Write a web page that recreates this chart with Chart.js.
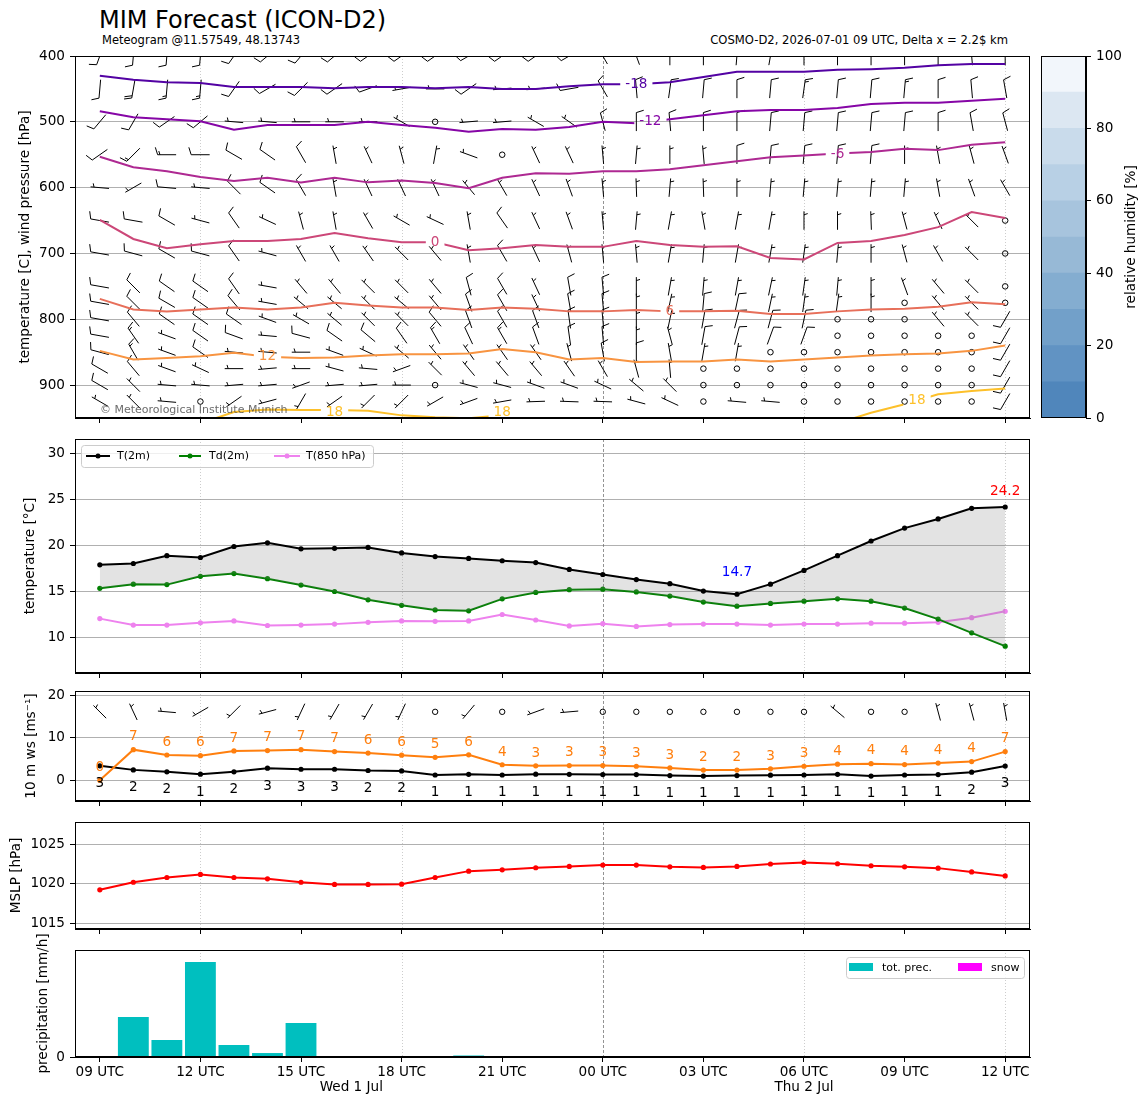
<!DOCTYPE html>
<html><head><meta charset="utf-8">
<script src="https://cdn.jsdelivr.net/npm/chart.js@4.4.1/dist/chart.umd.min.js"></script>
<style>
html,body{margin:0;padding:0;background:#fff;}
#wrap{position:relative;width:1148px;height:1105px;overflow:hidden;background:#fff;}
#wrap canvas{position:absolute;}
.txt{position:absolute;white-space:nowrap;color:#000;font-family:'DejaVu Sans',sans-serif;line-height:1;}
</style></head><body>
<div id="wrap">
 <div class="txt" style="left:99px;top:8px;font-size:24px;">MIM Forecast (ICON-D2)</div>
 <div class="txt" style="left:102px;top:35px;font-size:11.5px;">Meteogram @11.57549, 48.13743</div>
 <div class="txt" style="right:140px;top:35px;font-size:11.6px;">COSMO-D2, 2026-07-01 09 UTC, Delta x = 2.2$ km</div>
</div>
<script>
// ---------------- DATA ----------------
const timeHours = [0,1,2,3,4,5,6,7,8,9,10,11,12,13,14,15,16,17,18,19,20,21,22,23,24,25,26,27];
const xTickHours = [0,3,6,9,12,15,18,21,24,27];
const xTickLabels = ["09 UTC","12 UTC","15 UTC","18 UTC","21 UTC","00 UTC","03 UTC","06 UTC","09 UTC","12 UTC"];
const dateLabelHours = [7.5, 21];
const dateLabels = ["Wed 1 Jul","Thu 2 Jul"];
const dottedGridHours = [3,9,21,27];
const dayBreakHours = [15];

// isotherms: pressure [hPa] of each isotherm at every hour
const isoTemps = [-18,-12,-6,0,6,12,18];
const iso_m18 = [430,436,440,441,447,447,447,449,447,447,449,447,450,450,446,443,443,440,432,424,424,424,421,420,418,414,412,412];
const iso_m12 = [484,493,496,499,512,505,505,505,500,505,509,515,511,512,508,500,502,496,490,484,482,482,479,473,471,471,468,465];
const iso_m6  = [553,569,575,584,590,585,592,585,592,589,593,601,585,578,579,575,575,572,566,560,554,551,548,546,541,543,535,531];
const iso_0   = [649,678,692,686,681,681,678,669,677,683,683,695,692,687,690,690,681,687,690,689,707,709,684,681,672,660,637,646];
const iso_6   = [769,785,788,785,782,785,782,775,779,782,782,786,782,784,788,788,786,788,788,787,792,792,788,785,784,781,774,777];
const iso_12  = [848,861,859,856,851,857,859,858,855,853,853,852,845,850,861,859,865,864,864,861,864,861,858,855,853,852,848,840];
const iso_18  = [970,970,970,958,941,937,938,938,939,946,949,950.5,946,958,970,970,970,970,970,970,970,970,958,942,929,914,909,905];
const isoLabelTemps = [-18,-12,-6,0,6,12,18,18,18];
const isoLabelHours = [16.0,16.42,22.0,10.0,17.0,5.0,7.0,12.0,24.37];
const isoLabelPress = [443,499,550,683,788,857,941,941,923];

// wind barbs aloft: direction wind comes from [deg] and speed [kt]
const barbLevels = [400,450,500,550,600,650,700,750,775,800,825,850,875,900,925];
const dir400 = [200,185,185,185,215,230,220,230,235,235,235,240,235,235,240,330,340,0,0,5,10,0,0,0,0,0,355,0];
const spd400 = [10,10,10,10,10,10,10,10,10,10,10,10,10,10,10,10,10,10,10,10,10,10,10,10,10,10,10,10];
const dir450 = [185,190,185,185,215,240,225,235,250,260,270,235,265,265,260,330,355,8,5,0,5,8,5,5,5,0,355,350];
const spd450 = [10,20,15,15,10,10,10,10,10,5,5,10,5,5,10,10,10,10,10,10,10,15,10,10,15,10,10,10];
const dir500 = [220,210,235,230,275,275,270,270,270,300,0,265,265,300,305,345,0,355,0,0,5,5,5,5,5,0,350,345];
const spd500 = [10,10,10,10,5,5,5,5,5,5,0,5,5,5,5,10,10,10,10,10,10,10,10,10,10,10,10,10];
const dir550 = [235,225,270,270,300,305,330,350,335,345,10,290,0,335,335,355,5,0,355,0,5,5,5,5,0,350,345,340];
const spd550 = [10,15,15,10,10,10,10,5,5,5,5,5,0,5,5,5,5,5,5,10,10,10,10,10,5,5,5,5];
const dir600 = [275,240,275,275,315,305,330,350,335,335,335,320,330,335,340,355,358,5,358,0,5,5,5,5,5,350,340,330];
const spd600 = [5,5,10,5,10,10,10,5,5,5,5,5,5,5,5,5,5,5,5,5,5,5,5,5,5,5,5,5];
const dir650 = [280,280,300,285,325,295,345,350,330,300,295,350,325,335,340,355,5,10,350,10,10,0,0,358,345,335,315,0];
const spd650 = [10,10,10,5,10,5,5,5,5,5,5,5,10,5,5,5,5,5,5,5,5,5,5,5,5,5,5,0];
const dir700 = [280,285,300,285,325,285,330,330,325,315,320,350,330,335,345,355,355,10,5,10,10,8,5,0,345,330,315,0];
const spd700 = [10,10,10,10,10,5,5,5,5,5,5,5,10,5,5,5,5,5,5,5,5,5,5,5,5,5,5,0];
const dir750 = [280,315,305,305,325,280,320,320,315,315,320,345,330,335,350,355,0,10,5,10,12,8,5,0,340,320,315,0];
const spd750 = [10,10,10,10,10,5,5,5,5,5,5,10,10,5,10,10,5,5,5,5,5,5,5,5,5,5,5,0];
const dir775 = [280,315,300,305,320,280,310,310,315,310,320,340,330,335,350,355,0,12,5,12,12,8,8,0,0,320,315,0];
const spd775 = [10,10,10,10,10,5,5,5,5,5,5,10,10,5,10,10,5,5,10,10,5,5,5,5,0,5,5,0];
const dir800 = [280,320,305,305,305,290,300,310,315,315,320,340,330,340,352,355,0,12,10,15,15,12,0,0,0,320,315,210];
const spd800 = [10,10,10,10,10,5,5,5,5,5,10,10,10,10,10,10,5,5,10,10,10,10,0,0,0,5,5,10];
const dir825 = [280,325,290,305,290,275,285,305,310,325,330,335,330,340,352,355,0,345,10,15,20,20,0,0,0,0,0,210];
const spd825 = [10,15,5,10,10,5,10,10,10,10,15,10,15,10,10,10,5,5,10,10,10,10,0,0,0,0,0,10];
const dir850 = [285,330,290,305,275,275,270,290,295,310,320,325,325,325,345,350,0,350,10,10,0,0,0,0,0,0,0,210];
const spd850 = [10,15,5,10,5,5,5,5,5,5,5,5,5,5,5,10,10,5,5,5,0,0,0,0,0,0,0,10];
const dir875 = [300,320,290,295,270,265,270,285,275,250,315,320,320,320,325,330,345,355,0,0,0,0,0,0,0,0,0,210];
const spd875 = [10,10,5,5,5,5,5,5,5,5,5,5,5,5,5,5,5,5,0,0,0,0,0,0,0,0,0,10];
const dir900 = [300,315,275,275,265,265,250,265,265,270,0,285,285,290,290,295,310,315,0,0,0,0,0,0,0,0,0,210];
const spd900 = [10,5,5,5,5,5,5,5,5,5,0,5,5,5,5,5,5,5,0,0,0,0,0,0,0,0,0,10];
const dir925 = [300,315,275,0,235,255,210,235,225,225,240,250,260,268,272,272,285,295,0,275,275,0,0,0,0,0,0,210];
const spd925 = [5,5,5,0,5,5,5,5,5,5,5,5,5,5,5,5,5,5,0,5,5,0,0,0,0,0,0,10];

// 2 m temperatures [C]
const t2m   = [17.9,18.05,18.9,18.7,19.9,20.3,19.65,19.7,19.8,19.2,18.8,18.6,18.35,18.15,17.4,16.85,16.3,15.85,15.05,14.7,15.8,17.3,18.9,20.5,21.9,22.9,24.05,24.2];
const td2m  = [15.35,15.8,15.75,16.65,16.95,16.4,15.7,15.0,14.1,13.5,13.0,12.9,14.2,14.9,15.2,15.25,14.95,14.5,13.85,13.4,13.7,13.95,14.2,13.95,13.2,12.0,10.5,9.05];
const t850  = [12.05,11.35,11.35,11.6,11.8,11.3,11.35,11.45,11.65,11.8,11.75,11.8,12.5,11.9,11.25,11.5,11.2,11.4,11.45,11.45,11.35,11.45,11.45,11.55,11.55,11.65,12.15,12.85];

// 10 m wind [m/s]
const gust10 = [0.0,7.2,5.95,5.8,6.9,7.0,7.2,6.75,6.4,5.9,5.4,6.0,3.65,3.4,3.45,3.45,3.3,2.9,2.4,2.4,2.7,3.3,3.8,3.9,3.7,4.05,4.4,6.75];
const ws10   = [3.4,2.45,2.0,1.45,2.0,2.85,2.6,2.6,2.3,2.2,1.25,1.4,1.25,1.45,1.4,1.35,1.35,1.1,1.0,1.1,1.2,1.25,1.4,1.0,1.25,1.35,1.9,3.35];
const dir10  = [315,335,275,240,225,255,205,210,210,205,0,220,0,250,265,0,0,0,0,0,0,0,310,0,0,345,345,350];
const kt10   = [5,5,5,5,5,5,5,5,5,5,0,5,0,5,5,0,0,0,0,0,0,0,5,0,0,5,5,5];
const barbRow10 = 16.1;

// MSLP [hPa]
const mslp = [1019.24,1020.2,1020.8,1021.18,1020.8,1020.63,1020.2,1019.92,1019.92,1019.96,1020.8,1021.6,1021.77,1022.03,1022.2,1022.36,1022.36,1022.15,1022.07,1022.2,1022.5,1022.7,1022.53,1022.28,1022.15,1021.98,1021.5,1021.0];

// precipitation [mm/h]
const precipTotal = [0,0.374,0.159,0.888,0.112,0.037,0.318,0,0,0,0,0.014,0,0,0,0,0,0,0,0,0,0,0,0,0,0,0,0];
const precipSnow  = [0,0,0,0,0,0,0,0,0,0,0,0,0,0,0,0,0,0,0,0,0,0,0,0,0,0,0,0];

// relative humidity colour bar
const rhLevels = [0,10,20,30,40,50,60,70,80,90,100];
const rhColors = ['#5086bb','#6193c3','#72a0c9','#84add0','#97b9d6','#a7c4dd','#b8d0e5','#c9dbeb','#dce7f2','#f2f6fb'];

// ---------------- SETUP ----------------
Chart.defaults.font.family = "'DejaVu Sans', sans-serif";
Chart.defaults.font.size = 13.6;
Chart.defaults.color = '#000';
Chart.defaults.animation = false;
Chart.defaults.plugins.legend.display = false;
Chart.defaults.plugins.tooltip.enabled = false;

const FONT = "'DejaVu Sans', sans-serif";
const W = 1148, PAD = 14, RIGHTPAD = 118;
const wrap = document.getElementById('wrap');
function makeCanvas(left, top, w, h){
  const c = document.createElement('canvas');
  c.width = w; c.height = h;
  c.style.left = left + 'px'; c.style.top = top + 'px';
  c.style.width = w + 'px'; c.style.height = h + 'px';
  wrap.appendChild(c);
  return c;
}
const pts = arr => arr.map((v,k)=>({x: timeHours[k], y: v}));

function xScale(showLabels, h){
  return {
    type:'linear', min:-0.74, max:27.74, offset:false,
    afterBuildTicks: s => { s.ticks = xTickHours.map(v=>({value:v})); },
    ticks:{ autoSkip:false, maxRotation:0, minRotation:0, padding:2, color:'#000', font:{size:13.6},
      callback:(v,i)=> showLabels ? xTickLabels[i] : '' },
    grid:{ drawOnChartArea:false, drawTicks:true, tickLength:5, tickColor:'#000', offset:false },
    border:{ color:'#000', width:1 },
    afterFit: s => { s.height = h; }
  };
}
function yScale(min, max, tickVals, reverse){
  return {
    type:'linear', min:min, max:max, reverse:!!reverse,
    afterBuildTicks: s => { s.ticks = tickVals.map(v=>({value:v})); },
    ticks:{ color:'#000', padding:5, font:{size:13.6}, callback: v => String(v) },
    grid:{ color:'#b0b0b0', lineWidth:1, drawTicks:true, tickLength:5, tickColor:'#000' },
    border:{ color:'#000', width:1 },
    afterFit: s => { s.width = 75; }
  };
}

const framePlugin = { id:'frame', afterDraw(chart){
  const {ctx, chartArea:a} = chart;
  ctx.save(); ctx.strokeStyle = '#000'; ctx.lineWidth = 1; ctx.setLineDash([]);
  ctx.strokeRect(Math.round(a.left)+0.5, Math.round(a.top)+0.5, Math.round(a.right)-Math.round(a.left)-1, Math.round(a.bottom)-Math.round(a.top)-1);
  ctx.restore();
}};
const vgridPlugin = { id:'vgrid', beforeDatasetsDraw(chart){
  const {ctx, chartArea:a, scales:{x}} = chart;
  ctx.save();
  dottedGridHours.forEach(h=>{
    const px = Math.round(x.getPixelForValue(h))+0.5;
    ctx.strokeStyle = 'rgba(150,150,150,0.6)'; ctx.lineWidth = 0.8; ctx.setLineDash([1,2]);
    ctx.beginPath(); ctx.moveTo(px, a.top); ctx.lineTo(px, a.bottom); ctx.stroke();
  });
  dayBreakHours.forEach(h=>{
    const px = Math.round(x.getPixelForValue(h))+0.5;
    ctx.strokeStyle = '#666'; ctx.lineWidth = 0.7; ctx.setLineDash([3,2]);
    ctx.beginPath(); ctx.moveTo(px, a.top); ctx.lineTo(px, a.bottom); ctx.stroke();
  });
  ctx.restore();
}};
function makeYTitle(text, xpos){
  return { id:'ytitle', afterDraw(chart){
    const {ctx, chartArea:a} = chart;
    ctx.save(); ctx.translate(xpos, (a.top+a.bottom)/2); ctx.rotate(-Math.PI/2);
    ctx.font = '13.6px ' + FONT; ctx.fillStyle = '#000'; ctx.textAlign = 'center'; ctx.textBaseline = 'middle';
    ctx.fillText(text, 0, 0); ctx.restore();
  }};
}

function drawBarb(ctx, cx, cy, dirDeg, kt, L){
  const mag = Math.round(kt/5)*5;
  if (mag < 5){ ctx.beginPath(); ctx.arc(cx, cy, 0.15*L, 0, 2*Math.PI); ctx.stroke(); return; }
  const b = dirDeg*Math.PI/180;
  const ux = Math.sin(b), uy = -Math.cos(b);
  const px = Math.cos(b), py = Math.sin(b);
  const tx = cx - ux*L/2, ty = cy - uy*L/2;
  const fh = 0.4*L, fw = 0.25*L, sp = 0.125*L;
  ctx.beginPath();
  ctx.moveTo(tx, ty); ctx.lineTo(tx+ux*L, ty+uy*L);
  const nflag = Math.floor(mag/50);
  const rem = mag - 50*nflag;
  const nfull = Math.floor(rem/10);
  const half = (rem - 10*nfull) >= 5;
  let off = L;
  for (let i=0;i<nflag;i++){
    ctx.moveTo(tx+ux*off, ty+uy*off);
    ctx.lineTo(tx+ux*(off-fw/2)+px*fh, ty+uy*(off-fw/2)+py*fh);
    ctx.lineTo(tx+ux*(off-fw), ty+uy*(off-fw));
    off -= fw + sp;
  }
  for (let i=0;i<nfull;i++){
    ctx.moveTo(tx+ux*off, ty+uy*off);
    ctx.lineTo(tx+ux*(off+fw/2)+px*fh, ty+uy*(off+fw/2)+py*fh);
    off -= sp;
  }
  if (half){
    if (off === L) off -= 1.5*sp;
    ctx.moveTo(tx+ux*off, ty+uy*off);
    ctx.lineTo(tx+ux*(off+fw/4)+px*fh/2, ty+uy*(off+fw/4)+py*fh/2);
  }
  ctx.stroke();
}

// ---------------- PANEL 1: isotherms + wind barbs ----------------
const isoSeries = [iso_m18, iso_m12, iso_m6, iso_0, iso_6, iso_12, iso_18];
const isoColors = ['#5302a3','#8606a6','#ae2992','#cc4778','#e76f5a','#f89441','#fdc02a'];
const barbDirs = [dir400,dir450,dir500,dir550,dir600,dir650,dir700,dir750,dir775,dir800,dir825,dir850,dir875,dir900,dir925];
const barbSpds = [spd400,spd450,spd500,spd550,spd600,spd650,spd700,spd750,spd775,spd800,spd825,spd850,spd875,spd900,spd925];

function isoLabelRects(chart, temp){
  const {ctx, scales:{x,y}} = chart;
  ctx.save(); ctx.font = '13.6px ' + FONT;
  const out = [];
  isoLabelTemps.forEach((t,k)=>{
    if (t !== temp) return;
    const w = ctx.measureText(String(t)).width;
    const cx = x.getPixelForValue(isoLabelHours[k]), cy = y.getPixelForValue(isoLabelPress[k]);
    out.push({x: cx - w/2 - 5, y: cy - 8, w: w + 10, h: 16, cx, cy});
  });
  ctx.restore();
  return out;
}
const barbPlugin = { id:'barbs', beforeDatasetsDraw(chart){
  const {ctx, chartArea:a, scales:{x,y}} = chart;
  ctx.save(); ctx.beginPath(); ctx.rect(a.left, a.top, a.right-a.left, a.bottom-a.top); ctx.clip();
  ctx.strokeStyle = '#000'; ctx.lineWidth = 1; ctx.lineCap = 'butt';
  barbLevels.forEach((lev, li)=>{
    timeHours.forEach((h, k)=>{
      drawBarb(ctx, x.getPixelForValue(h), y.getPixelForValue(lev), barbDirs[li][k], barbSpds[li][k], 18.5);
    });
  });
  ctx.restore();
}};
const isoGapPlugin = { id:'isogap',
  beforeDatasetDraw(chart, args){
    const ds = chart.data.datasets[args.index];
    const rects = isoLabelRects(chart, ds.isoT);
    if (!rects.length) return;
    const ctx = chart.ctx;
    ctx.save(); ctx.beginPath(); ctx.rect(0,0,chart.width,chart.height);
    rects.forEach(r=>ctx.rect(r.x, r.y, r.w, r.h));
    ctx.clip('evenodd');
    ds._gap = true;
  },
  afterDatasetDraw(chart, args){
    const ds = chart.data.datasets[args.index];
    if (ds._gap){ chart.ctx.restore(); ds._gap = false; }
  },
  afterDatasetsDraw(chart){
    const {ctx, chartArea:a} = chart;
    ctx.save();
    ctx.font = '13.6px ' + FONT; ctx.textAlign = 'center'; ctx.textBaseline = 'middle';
    isoTemps.forEach((t, ti)=>{
      isoLabelRects(chart, t).forEach(r=>{ ctx.fillStyle = isoColors[ti]; ctx.fillText(String(t), r.cx, r.cy); });
    });
    ctx.font = '11px ' + FONT; ctx.textAlign = 'left'; ctx.fillStyle = 'rgba(70,70,70,0.8)';
    ctx.fillText('\u00A9 Meteorological Institute Munich', a.left + 25, a.bottom - 8);
    ctx.restore();
  }
};
const c1 = makeCanvas(0, 56-PAD, W, 418-56+2*PAD);
new Chart(c1, {
  type:'line',
  data:{ datasets: isoSeries.map((arr,k)=>({ label:String(isoTemps[k]), isoT: isoTemps[k], data: pts(arr),
    borderColor: isoColors[k], borderWidth:2, pointRadius:0, tension:0, fill:false })) },
  options:{ responsive:false, layout:{padding:{left:0,right:RIGHTPAD,top:PAD,bottom:0}},
    scales:{ x: xScale(false, PAD), y: yScale(400, 950, [400,500,600,700,800,900], true) } },
  plugins:[vgridPlugin, barbPlugin, isoGapPlugin, framePlugin, makeYTitle('temperature [C], wind pressure [hPa]', 25)]
});

// colour bar
const cb = makeCanvas(1041, 56-PAD, 107, 418-56+2*PAD);
new Chart(cb, {
  type:'bar',
  data:{ labels:['RH'], datasets: rhColors.map((c,k)=>({ label: rhLevels[k]+'-'+rhLevels[k+1], data:[rhLevels[k+1]-rhLevels[k]],
    backgroundColor:c, borderWidth:0, barPercentage:1, categoryPercentage:1 })) },
  options:{ responsive:false, layout:{padding:{left:0,right:0,top:PAD,bottom:PAD}},
    scales:{
      x:{ type:'category', stacked:true, display:false },
      y:{ type:'linear', stacked:true, position:'right', min:0, max:100,
          afterBuildTicks: s => { s.ticks = [0,20,40,60,80,100].map(v=>({value:v})); },
          ticks:{ color:'#000', padding:5, font:{size:13.6} },
          grid:{ drawOnChartArea:false, drawTicks:true, tickLength:5, tickColor:'#000' },
          border:{ color:'#000', width:1 },
          afterFit: s => { s.width = 62; } } } },
  plugins:[framePlugin, { id:'cbtitle', afterDraw(chart){
    const {ctx, chartArea:a} = chart;
    ctx.save(); ctx.translate(90, (a.top+a.bottom)/2); ctx.rotate(-Math.PI/2);
    ctx.font = '13.6px ' + FONT; ctx.fillStyle = '#000'; ctx.textAlign = 'center'; ctx.textBaseline = 'middle';
    ctx.fillText('relative humidity [%]', 0, 0); ctx.restore(); } }]
});

// ---------------- PANEL 2: temperatures ----------------
const legend2Plugin = { id:'leg2', afterDatasetsDraw(chart){
  const {ctx, chartArea:a} = chart;
  const x0 = a.left + 6, y0 = a.top + 6, w = 292, h = 22;
  ctx.save();
  ctx.beginPath(); ctx.roundRect(x0+0.5, y0+0.5, w, h, 3);
  ctx.fillStyle = 'rgba(255,255,255,0.8)'; ctx.fill();
  ctx.strokeStyle = '#cccccc'; ctx.lineWidth = 1; ctx.stroke();
  const offs = [[5,29,36],[98,120,128],[193,219,225]];
  ctx.font = '11px ' + FONT; ctx.textBaseline = 'middle'; ctx.textAlign = 'left';
  chart.data.datasets.forEach((ds,k)=>{
    const cy = y0 + h/2;
    ctx.strokeStyle = ds.borderColor; ctx.lineWidth = 2;
    ctx.beginPath(); ctx.moveTo(x0+offs[k][0], cy); ctx.lineTo(x0+offs[k][1], cy); ctx.stroke();
    ctx.fillStyle = ds.borderColor;
    ctx.beginPath(); ctx.arc(x0+(offs[k][0]+offs[k][1])/2, cy, 2.5, 0, 2*Math.PI); ctx.fill();
    ctx.fillStyle = '#000'; ctx.fillText(ds.label, x0+offs[k][2], cy+0.5);
  });
  ctx.restore();
}};
const extremaPlugin = { id:'extrema', afterDatasetsDraw(chart){
  const {ctx, scales:{x,y}} = chart;
  let iMax = 0, iMin = 0;
  t2m.forEach((v,k)=>{ if (v > t2m[iMax]) iMax = k; if (v < t2m[iMin]) iMin = k; });
  ctx.save(); ctx.font = '13.6px ' + FONT; ctx.textAlign = 'center'; ctx.textBaseline = 'middle';
  ctx.fillStyle = '#ff0000';
  ctx.fillText(t2m[iMax].toFixed(1), x.getPixelForValue(timeHours[iMax]), y.getPixelForValue(t2m[iMax]) - 16);
  ctx.fillStyle = '#0000ff';
  ctx.fillText(t2m[iMin].toFixed(1), x.getPixelForValue(timeHours[iMin]), y.getPixelForValue(t2m[iMin]) - 22);
  ctx.restore();
}};
const c2 = makeCanvas(0, 439-PAD, W, 673-439+2*PAD);
new Chart(c2, {
  type:'line',
  data:{ datasets:[
    { label:'T(2m)', data: pts(t2m), borderColor:'#000000', backgroundColor:'rgba(128,128,128,0.22)', fill:'+1',
      borderWidth:2, pointRadius:2.6, pointBackgroundColor:'#000000', pointBorderWidth:0, tension:0 },
    { label:'Td(2m)', data: pts(td2m), borderColor:'#008000', borderWidth:2, pointRadius:2.6,
      pointBackgroundColor:'#008000', pointBorderWidth:0, tension:0, fill:false },
    { label:'T(850 hPa)', data: pts(t850), borderColor:'#ee82ee', borderWidth:2, pointRadius:2.6,
      pointBackgroundColor:'#ee82ee', pointBorderWidth:0, tension:0, fill:false } ] },
  options:{ responsive:false, layout:{padding:{left:0,right:RIGHTPAD,top:PAD,bottom:0}},
    scales:{ x: xScale(false, PAD), y: yScale(6.13, 31.6, [10,15,20,25,30]) } },
  plugins:[vgridPlugin, legend2Plugin, extremaPlugin, framePlugin, makeYTitle('temperature [\u00B0C]', 30)]
});

// ---------------- PANEL 3: 10 m wind ----------------
const windPlugin = { id:'wind', afterDatasetsDraw(chart){
  const {ctx, scales:{x,y}} = chart;
  ctx.save(); ctx.font = '13.6px ' + FONT; ctx.textAlign = 'center'; ctx.textBaseline = 'middle';
  gust10.forEach((v,k)=>{ ctx.fillStyle = '#ff7f0e';
    ctx.fillText(String(Math.round(v)), x.getPixelForValue(timeHours[k]), y.getPixelForValue(v + 3)); });
  ws10.forEach((v,k)=>{ ctx.fillStyle = '#000';
    ctx.fillText(String(Math.round(v)), x.getPixelForValue(timeHours[k]), y.getPixelForValue(v - 4.2)); });
  ctx.strokeStyle = '#000'; ctx.lineWidth = 1;
  dir10.forEach((d,k)=>{ drawBarb(ctx, x.getPixelForValue(timeHours[k]), y.getPixelForValue(barbRow10), d, kt10[k], 18); });
  ctx.restore();
}};
const c3 = makeCanvas(0, 691-PAD, W, 801-691+2*PAD);
new Chart(c3, {
  type:'line',
  data:{ datasets:[
    { label:'gust', data: pts(gust10), borderColor:'#ff7f0e', borderWidth:2, pointRadius:2.6,
      pointBackgroundColor:'#ff7f0e', pointBorderWidth:0, tension:0, fill:false },
    { label:'ws', data: pts(ws10), borderColor:'#000000', borderWidth:2, pointRadius:2.6,
      pointBackgroundColor:'#000000', pointBorderWidth:0, tension:0, fill:false } ] },
  options:{ responsive:false, layout:{padding:{left:0,right:RIGHTPAD,top:PAD,bottom:0}},
    scales:{ x: xScale(false, PAD), y: yScale(-4.87, 21.0, [0,10,20]) } },
  plugins:[vgridPlugin, windPlugin, framePlugin, makeYTitle('10 m ws [ms\u207B\u00B9]', 31)]
});

// ---------------- PANEL 4: MSLP ----------------
const c4 = makeCanvas(0, 822-PAD, W, 929-822+2*PAD);
new Chart(c4, {
  type:'line',
  data:{ datasets:[
    { label:'MSLP', data: pts(mslp), borderColor:'#ff0000', borderWidth:2, pointRadius:2.6,
      pointBackgroundColor:'#ff0000', pointBorderWidth:0, tension:0, fill:false } ] },
  options:{ responsive:false, layout:{padding:{left:0,right:RIGHTPAD,top:PAD,bottom:0}},
    scales:{ x: xScale(false, PAD), y: yScale(1014.3, 1027.8, [1015,1020,1025]) } },
  plugins:[vgridPlugin, framePlugin, makeYTitle('MSLP [hPa]', 16)]
});

// ---------------- PANEL 5: precipitation ----------------
const legend5Plugin = { id:'leg5', afterDatasetsDraw(chart){
  const {ctx, chartArea:a} = chart;
  const x0 = a.right - 184, y0 = a.top + 7, w = 178, h = 21;
  ctx.save();
  ctx.beginPath(); ctx.roundRect(x0+0.5, y0+0.5, w, h, 3);
  ctx.fillStyle = 'rgba(255,255,255,0.8)'; ctx.fill();
  ctx.strokeStyle = '#cccccc'; ctx.lineWidth = 1; ctx.stroke();
  const offs = [[3,36],[112,145]];
  ctx.font = '11px ' + FONT; ctx.textBaseline = 'middle'; ctx.textAlign = 'left';
  chart.data.datasets.forEach((ds,k)=>{
    ctx.fillStyle = ds.backgroundColor; ctx.fillRect(x0+offs[k][0], y0+6, 24, 8);
    ctx.fillStyle = '#000'; ctx.fillText(ds.label, x0+offs[k][1], y0+h/2+0.5);
  });
  ctx.restore();
}};
const datePlugin = { id:'dates', afterDraw(chart){
  const {ctx, chartArea:a, scales:{x}} = chart;
  ctx.save(); ctx.font = '13.6px ' + FONT; ctx.fillStyle = '#000'; ctx.textAlign = 'center'; ctx.textBaseline = 'middle';
  dateLabels.forEach((t,k)=> ctx.fillText(t, x.getPixelForValue(dateLabelHours[k]), a.bottom + 30.5));
  ctx.restore();
}};
const P5TOP = 20;
const c5 = makeCanvas(0, 950-P5TOP, W, 1105-950+P5TOP);
new Chart(c5, {
  type:'bar',
  data:{ datasets:[
    { label:'tot. prec.', data: pts(precipTotal), backgroundColor:'#00bfbf', borderWidth:0,
      barPercentage:1, categoryPercentage:0.92, grouped:false },
    { label:'snow', data: pts(precipSnow), backgroundColor:'#ff00ff', borderWidth:0,
      barPercentage:1, categoryPercentage:0.92, grouped:false } ] },
  options:{ responsive:false, layout:{padding:{left:0,right:RIGHTPAD,top:P5TOP,bottom:0}},
    scales:{ x: xScale(true, 48), y: yScale(0, 1, [0]) } },
  plugins:[vgridPlugin, legend5Plugin, datePlugin, framePlugin, makeYTitle('precipitation [mm/h]', 43)]
});
</script>
</body></html>
